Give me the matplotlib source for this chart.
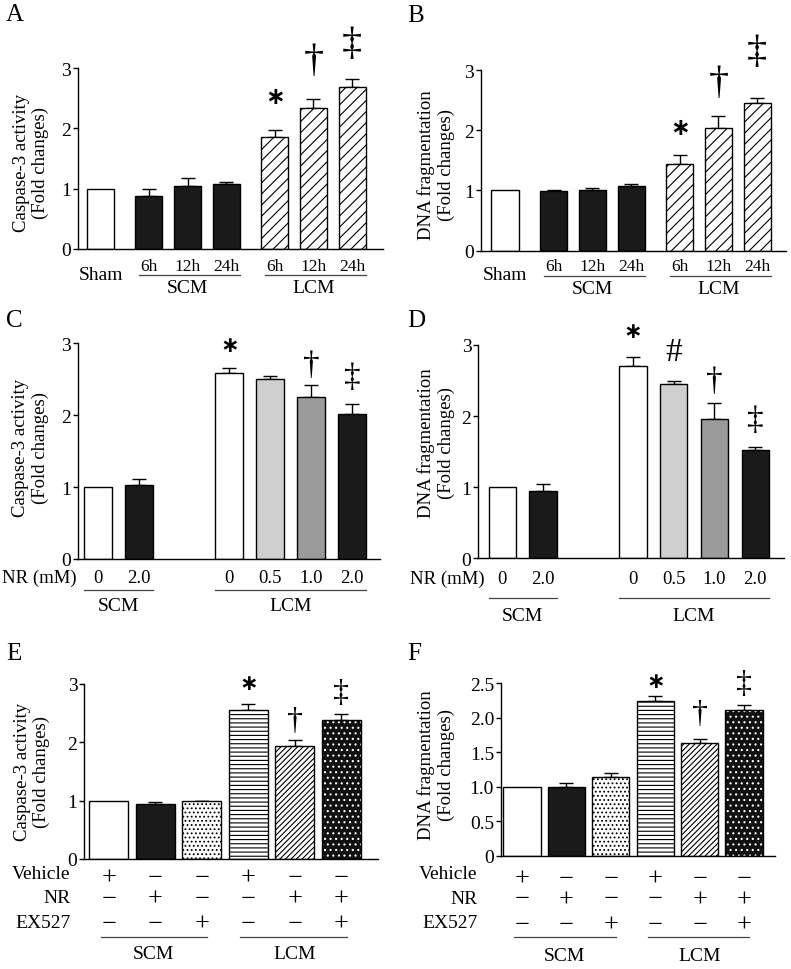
import numpy as np
import matplotlib.pyplot as plt
from matplotlib import transforms
from matplotlib.lines import Line2D

W, H = 791, 970
plt.rcParams['font.family'] = ['Liberation Serif', 'DejaVu Serif', 'DejaVu Sans']
plt.rcParams['hatch.linewidth'] = 0.8

# ---- data ----
# A: caspase-3, time course
a_labels = ['Sham', '6h', '12h', '24h', '6h', '12h', '24h']
a_vals = [1.00, 0.88, 1.05, 1.08, 1.86, 2.34, 2.69]
a_err = [0.00, 0.12, 0.12, 0.03, 0.11, 0.15, 0.13]
# B: DNA fragmentation, time course
b_vals = [1.00, 0.99, 1.00, 1.07, 1.44, 2.03, 2.46]
b_err = [0.00, 0.02, 0.04, 0.04, 0.15, 0.20, 0.08]
# C/D: NR dose
nr_labels = ['0', '2.0', '0', '0.5', '1.0', '2.0']
c_vals = [1.00, 1.03, 2.59, 2.51, 2.26, 2.02]
c_err = [0.00, 0.08, 0.06, 0.04, 0.16, 0.13]
d_vals = [1.00, 0.95, 2.70, 2.45, 1.96, 1.52]
d_err = [0.00, 0.10, 0.13, 0.05, 0.22, 0.05]
# E/F: NR + EX527
vehicle = ['+', '\u2212', '\u2212', '+', '\u2212', '\u2212']
nr = ['\u2212', '+', '\u2212', '\u2212', '+', '+']
ex527 = ['\u2212', '\u2212', '+', '\u2212', '\u2212', '+']
e_vals = [1.00, 0.94, 0.99, 2.55, 1.94, 2.38]
e_err = [0.00, 0.04, 0.01, 0.11, 0.10, 0.11]
f_vals = [1.00, 1.00, 1.14, 2.24, 1.63, 2.11]
f_err = [0.00, 0.06, 0.06, 0.08, 0.07, 0.08]

fig = plt.figure(figsize=(W / 100, H / 100), dpi=100)


def fy(y):
    return 1 - y / H


def make_axes(left, right, top, bottom, c0, unit, ymax, yticks, yticklabels):
    ax = fig.add_axes([left / W, fy(bottom), (right - left) / W, (bottom - top) / H])
    ax.set_xlim((left - c0) / unit, (right - c0) / unit)
    ax.set_ylim(0, ymax)
    ax.spines['top'].set_visible(False)
    ax.spines['right'].set_visible(False)
    ax.spines['left'].set_linewidth(1.0)
    ax.spines['bottom'].set_linewidth(1.0)
    ax.set_xticks([])
    ax.set_yticks(yticks)
    ax.set_yticklabels(yticklabels, fontsize=14)
    ax.tick_params(axis='y', direction='out', length=3.5, width=1.0, pad=1.5)
    ax.patch.set_alpha(0)
    return ax


def draw_bars(ax, x, vals, err, width, styles):
    for xi, v, (fc, hatch, hc) in zip(x, vals, styles):
        if hc is None:
            ax.bar(xi, v, width, color=fc, edgecolor='black', linewidth=1.0,
                   hatch=hatch, zorder=2)
        else:
            ax.bar(xi, v, width, color=fc, edgecolor=hc, linewidth=0,
                   hatch=hatch, zorder=2)
            ax.bar(xi, v, width, fill=False, edgecolor='black', linewidth=1.0, zorder=2.5)
    x = np.asarray(x, float)
    vals = np.asarray(vals)
    err = np.asarray(err)
    m = err > 0
    ax.errorbar(x[m], vals[m], yerr=[np.zeros(m.sum()), err[m]], fmt='none',
                ecolor='black', elinewidth=1.0, capsize=5, capthick=1.0, zorder=1)


def sig(ax, x, y, s, size):
    if s == '*':
        ax.text(x, y, '\u2217', ha='center', va='center', fontsize=size,
                family='DejaVu Sans', fontweight='bold')
    else:
        ax.text(x, y, s, ha='center', va='center', fontsize=size)


def under(ax, x, ypx, s, fs=12.5, **kw):
    tr = transforms.blended_transform_factory(ax.transData, fig.transFigure)
    ax.text(x, fy(ypx), s, transform=tr, ha=kw.pop('ha', 'center'), va='center',
            fontsize=fs, clip_on=False, **kw)


def uline(ax, x0, x1, ypx):
    tr = transforms.blended_transform_factory(ax.transData, fig.transFigure)
    ax.add_line(Line2D([x0, x1], [fy(ypx)] * 2, transform=tr, color='#444444',
                       linewidth=0.9, clip_on=False))


def ylabel(x, y, s):
    fig.text(x / W, fy(y), s, rotation=90, ha='center', va='center', fontsize=13.5,
             multialignment='center', linespacing=1.15)


def letter(x, y, s):
    fig.text(x / W, fy(y), s, ha='left', va='baseline', fontsize=18)


WHITE = ('white', None, None)
BLACK = ('#1a1a1a', None, None)
DIAG = ('white', '///', None)

# ---- A & B ----
tx = [0, 1.25, 2.25, 3.25, 4.5, 5.5, 6.5]
ab_styles = [WHITE, BLACK, BLACK, BLACK, DIAG, DIAG, DIAG]
bw = 0.7

for (left, right, top, bot, c0, unit, vals, err, ylab, lx, ly, let, lpos, rows, marks) in [
    (77.7, 383, 69, 250, 100.5, 38.7, a_vals, a_err,
     'Caspase-3 activity\n(Fold changes)', 31, 163, 'A', (6, 21),
     (266.7, 275, 275.7, 288.3), [(4, 2.54, '*'), (5, 3.13, '\u2020'), (6, 3.40, '\u2021')]),
    (481, 786, 71, 251.7, 505, 38.8, b_vals, b_err,
     'DNA fragmentation\n(Fold changes)', 436, 165, 'B', (407, 22),
     (266.7, 276, 276.7, 290), [(4, 2.05, '*'), (5, 2.80, '\u2020'), (6, 3.30, '\u2021')]),
]:
    ax = make_axes(left, right, top, bot, c0, unit, 3, [0, 1, 2, 3], ['0', '1', '2', '3'])
    draw_bars(ax, tx, vals, err, bw, ab_styles)
    ylabel(lx, ly, ylab)
    letter(lpos[0], lpos[1], let)
    y_tick, y_sham, y_line, y_grp = rows
    under(ax, tx[0], y_sham, a_labels[0], fs=14)
    for xi, lab in zip(tx[1:], a_labels[1:]):
        under(ax, xi, y_tick, lab, fs=12.5)
    uline(ax, tx[1] - bw / 2 + 0.1, tx[3] + bw / 2, y_line)
    uline(ax, tx[4] - bw / 2 + 0.1, tx[6] + bw / 2, y_line)
    under(ax, tx[2], y_grp, 'SCM', fs=14)
    under(ax, tx[5], y_grp, 'LCM', fs=14)
    for i, yv, s in marks:
        sig(ax, tx[i], yv, s, 17 if s == '*' else 29)

# ---- C & D ----
dx = [0, 1, 3.2, 4.2, 5.2, 6.2]
cd_styles = [WHITE, BLACK, WHITE, ('#cfcfcf', None, None), ('#9b9b9b', None, None), BLACK]
cw = 0.67

for (left, right, top, bot, c0, unit, vals, err, ylab, lx, ly, let, lpos, nrx, rows, marks) in [
    (77.7, 380, 344.3, 560, 98, 41, c_vals, c_err,
     'Caspase-3 activity\n(Fold changes)', 30.5, 448, 'C', (6, 327), 77,
     (578.3, 590.7, 606.7),
     [(2, 2.97, '*'), (4, 2.70, '\u2020'), (5, 2.54, '\u2021')]),
    (478.3, 784, 346, 559.3, 502.3, 40.8, d_vals, d_err,
     'DNA fragmentation\n(Fold changes)', 436, 443, 'D', (407, 327), 485,
     (579.3, 599.3, 616.7),
     [(2, 3.20, '*'), (3, 2.91, '#'), (4, 2.50, '\u2020'), (5, 1.95, '\u2021')]),
]:
    ax = make_axes(left, right, top, bot, c0, unit, 3, [0, 1, 2, 3], ['0', '1', '2', '3'])
    draw_bars(ax, dx, vals, err, cw, cd_styles)
    ylabel(lx, ly, ylab)
    letter(lpos[0], lpos[1], let)
    y_tick, y_line, y_grp = rows
    fig.text(nrx / W, fy(y_tick), 'NR (mM)', ha='right', va='center', fontsize=13.5)
    for xi, lab in zip(dx, nr_labels):
        under(ax, xi, y_tick, lab, fs=13.5)
    uline(ax, dx[0] - cw / 2, dx[1] + cw / 2, y_line)
    uline(ax, dx[2] - cw / 2, dx[5] + cw / 2, y_line)
    under(ax, (dx[0] + dx[1]) / 2, y_grp, 'SCM', fs=14)
    under(ax, (dx[2] + dx[5]) / 2, y_grp, 'LCM', fs=14)
    for i, yv, s in marks:
        if s == '*':
            sig(ax, dx[i], yv, s, 16)
        elif s == '#':
            sig(ax, dx[i], yv, s, 24)
        else:
            sig(ax, dx[i], yv, s, 24)

# ---- E & F ----
ex = [0, 1, 2, 3, 4, 5]
ef_styles = [WHITE, BLACK, ('white', '....', None), ('white', '----', None),
             ('white', '//////', None), ('#111111', '...', 'white')]
ew = 0.84

for (left, right, top, bot, c0, unit, vals, err, ymax, yt, ytl, ylab, lx, ly, let, lpos,
     rx, trows, rows, marks) in [
    (84.3, 378.3, 685, 860, 108.8, 46.5, e_vals, e_err, 3, [0, 1, 2, 3], ['0', '1', '2', '3'],
     'Caspase-3 activity\n(Fold changes)', 31.7, 772, 'E', (6, 660), 70.7,
     [(875, 879), (898.3, 900), (923.3, 925)], (937.7, 955),
     [(3, 3.02, '*'), (4, 2.37, '\u2020'), (5, 2.86, '\u2021')]),
    (501, 775, 684.3, 857, 522, 44.4, f_vals, f_err, 2.5, [0, 0.5, 1, 1.5, 2, 2.5],
     ['0', '0.5', '1.0', '1.5', '2.0', '2.5'],
     'DNA fragmentation\n(Fold changes)', 436, 765, 'F', (407, 660), 477.7,
     [(875, 880), (899.3, 900.5), (924, 925.5)], (938.3, 956.7),
     [(3, 2.54, '*'), (4, 2.06, '\u2020'), (5, 2.49, '\u2021')]),
]:
    ax = make_axes(left, right, top, bot, c0, unit, ymax, yt, ytl)
    draw_bars(ax, ex, vals, err, ew, ef_styles)
    ylabel(lx, ly, ylab)
    letter(lpos[0], lpos[1], let)
    for (ty, sy), name, row in zip(trows, ['Vehicle', 'NR', 'EX527'], [vehicle, nr, ex527]):
        fig.text(rx / W, fy(ty), name, ha='right', va='center', fontsize=14)
        for xi, s in zip(ex, row):
            under(ax, xi, sy, s, fs=19)
    y_line, y_grp = rows
    uline(ax, ex[0] - 0.17, ex[2] + 0.12, y_line)
    uline(ax, ex[3] - 0.17, ex[5] + 0.12, y_line)
    under(ax, ex[1] - 0.05, y_grp, 'SCM', fs=14)
    under(ax, ex[4], y_grp, 'LCM', fs=14)
    for i, yv, s in marks:
        sig(ax, ex[i], yv, s, 16 if s == '*' else 23)

fig.savefig('out.png', dpi=100)
